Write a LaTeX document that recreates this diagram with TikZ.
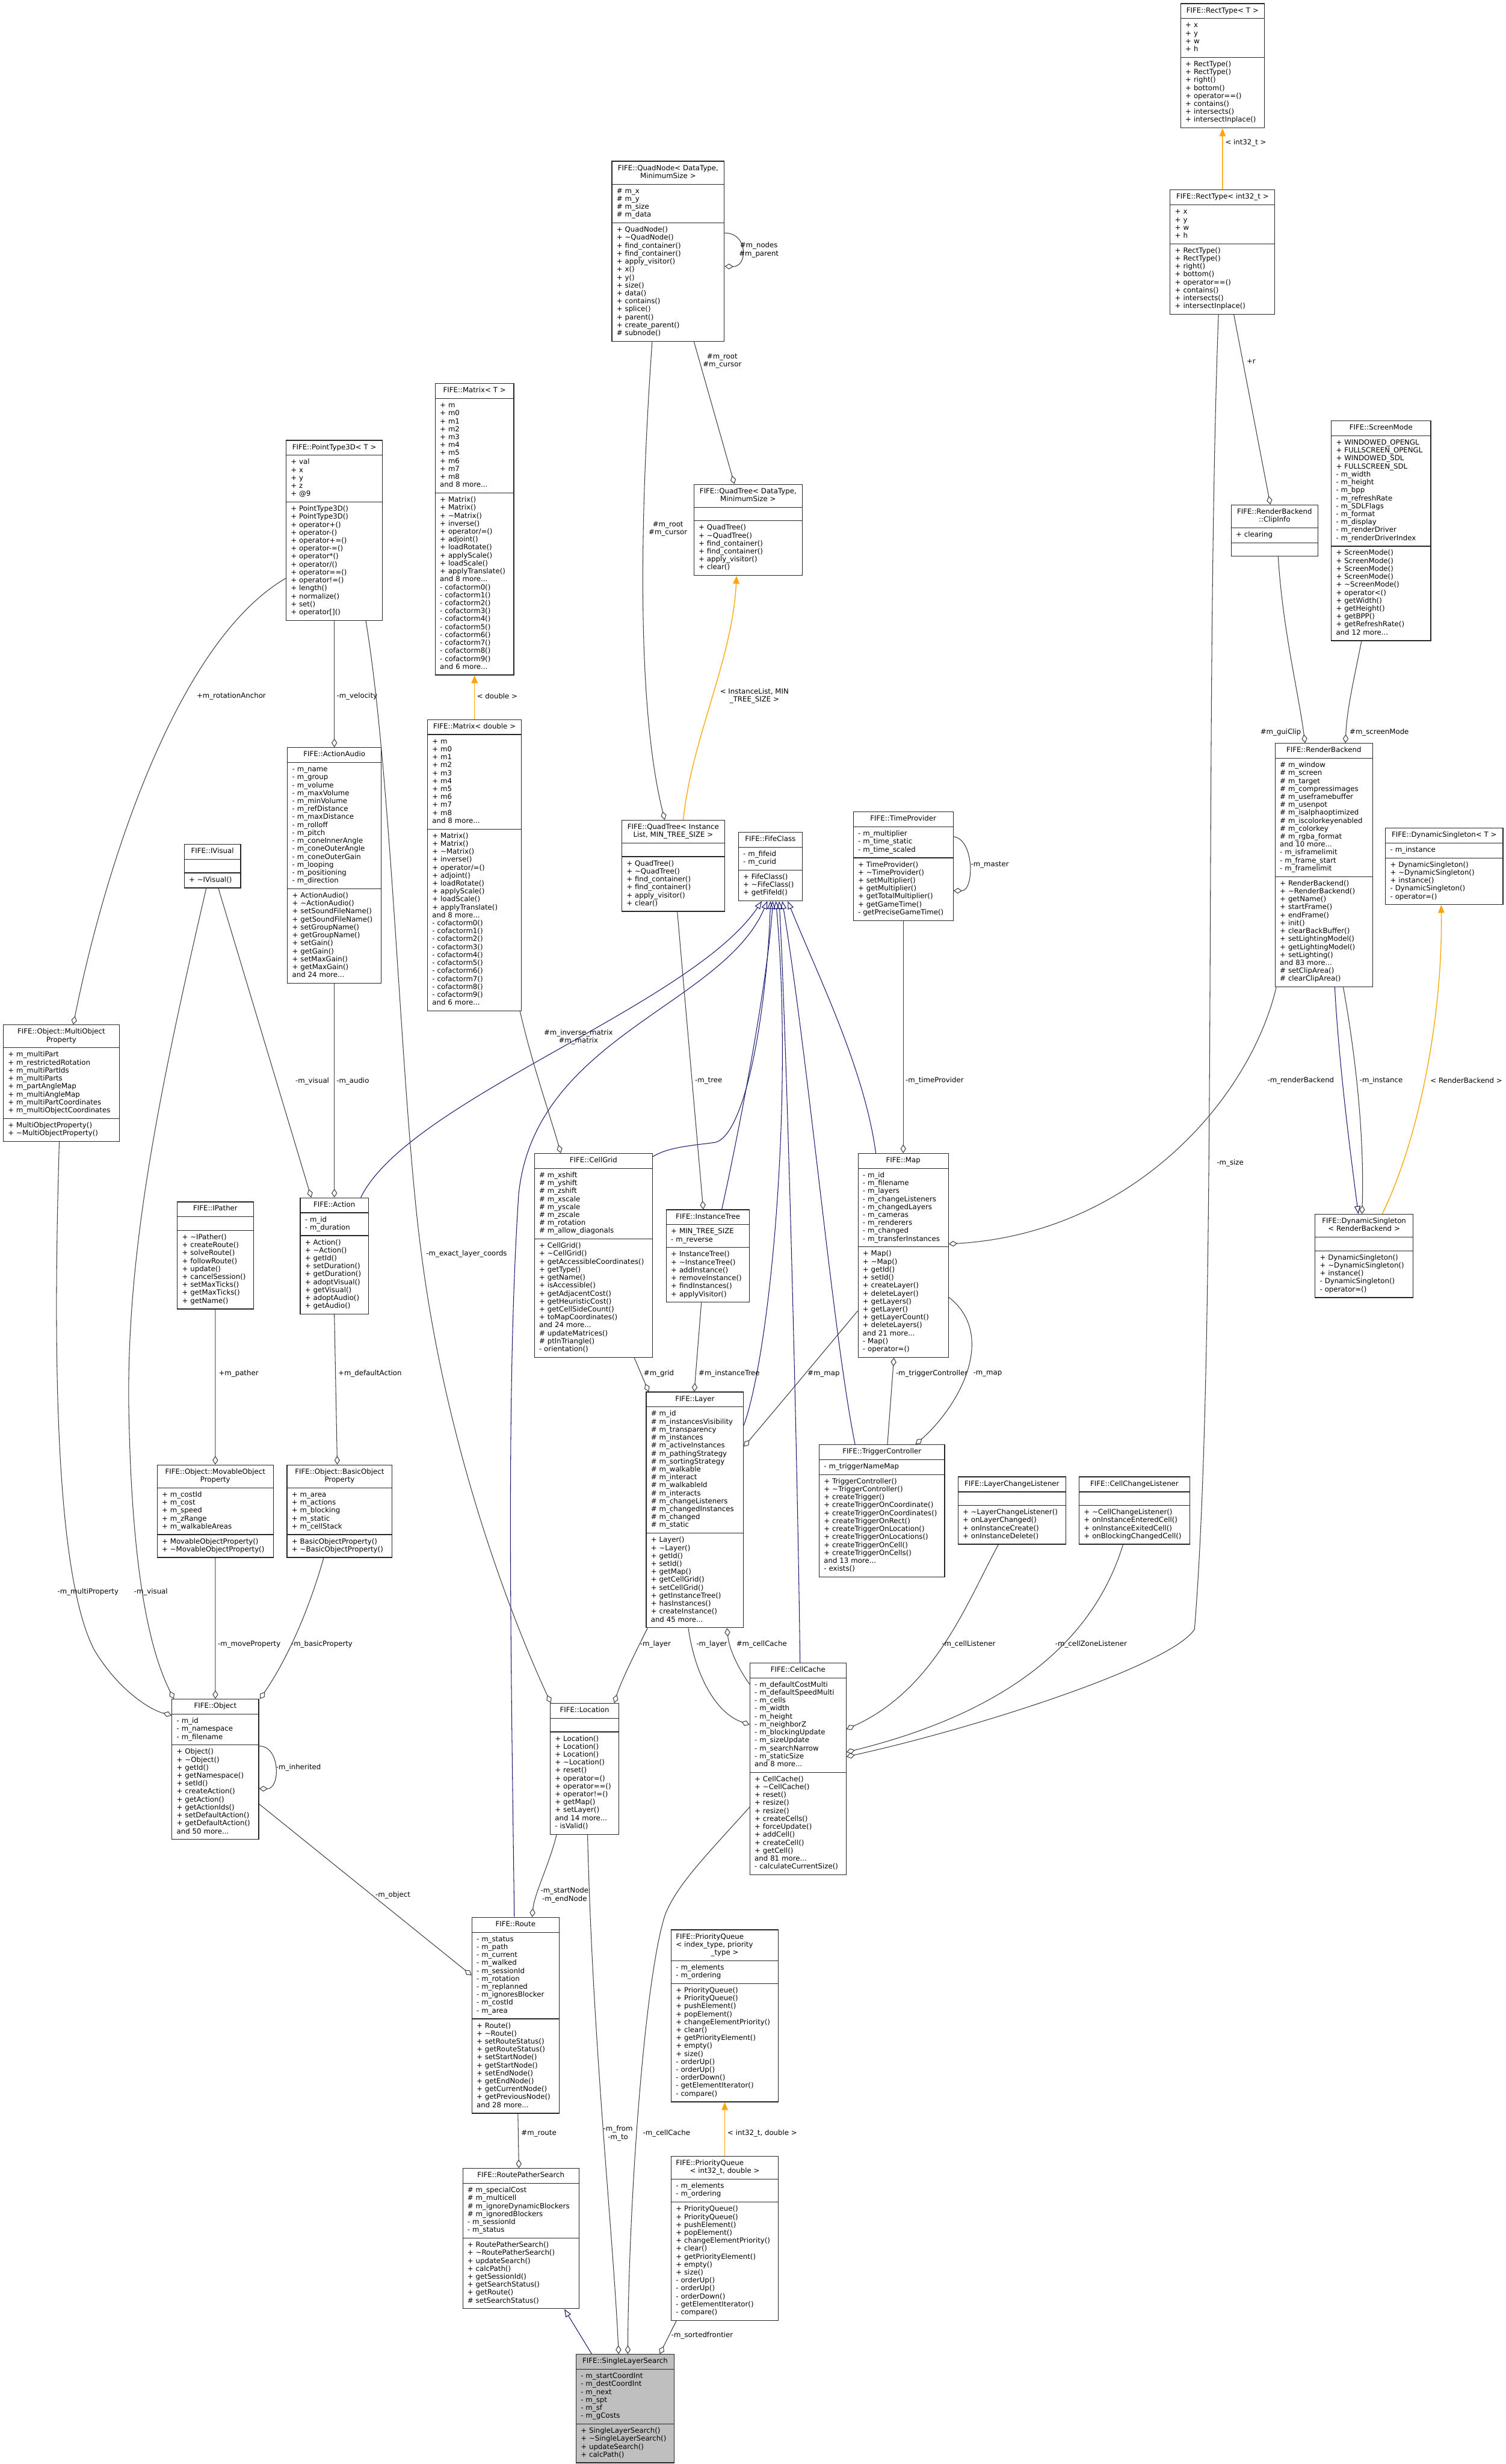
\documentclass[tikz,border=0pt]{standalone}
\usepackage{fontspec}
\setmainfont{DejaVu Sans}
\usetikzlibrary{shapes.multipart,arrows.meta}
\definecolor{edgegray}{HTML}{404040}
\definecolor{inhblue}{HTML}{191970}
\definecolor{tmplorange}{HTML}{FFA500}
\definecolor{slsgray}{HTML}{BFBFBF}
\newcommand\clsfont{\fontsize{4.5}{5.06}\selectfont\hyphenpenalty=10000\exhyphenpenalty=10000\relax}
\newcommand\cmp[1]{\strut#1\strut}
\newcommand\ttl[1]{\strut\makebox[\hsize]{#1}\strut}
\newcommand\ttlii[2]{\strut\makebox[\hsize]{#1}\\\makebox[\hsize]{#2}\strut}
\newcommand\emptycmp{\rule{0pt}{4.2pt}}
\begin{document}
\begin{tikzpicture}[x=1pt,y=-1pt,
  cls/.style={rectangle split, rectangle split parts=3, draw=black!85, line width=0.45pt, fill=white,
    inner xsep=3pt, inner ysep=2pt, align=left, font=\clsfont, anchor=north west},
  agg/.style={draw=edgegray, line width=0.4pt, -{Diamond[open,length=5.5pt,width=3.6pt]}},
  inh/.style={draw=inhblue, line width=0.4pt, -{Triangle[open,length=5pt,width=3.8pt]}},
  tmpl/.style={draw=tmplorange, line width=0.5pt, -{Triangle[length=5pt,width=4pt]}},
  lblw/.style={font=\clsfont, inner sep=0pt, anchor=west, align=left},
  lble/.style={font=\clsfont, inner sep=0pt, anchor=east, align=right},
  lblc/.style={font=\clsfont, inner sep=0pt, align=center}]
\fill[white] (0,0) rectangle (958,1568);
\useasboundingbox (0,0) rectangle (958,1568);

% ---------------- classes ----------------
\node[cls, text width=47.2pt] (rectT) at (751,2.1) {\ttl{FIFE::RectType<~T~>}\nodepart{second}\cmp{+~x\\+~y\\+~w\\+~h}\nodepart{third}\cmp{+~RectType()\\+~RectType()\\+~right()\\+~bottom()\\+~operator==()\\+~contains()\\+~intersects()\\+~intersectInplace()}};

\node[cls, text width=60.6pt] (rectI) at (744.3,120.7) {\ttl{FIFE::RectType<~int32\_t~>}\nodepart{second}\cmp{+~x\\+~y\\+~w\\+~h}\nodepart{third}\cmp{+~RectType()\\+~RectType()\\+~right()\\+~bottom()\\+~operator==()\\+~contains()\\+~intersects()\\+~intersectInplace()}};

\node[cls, text width=65.5pt] (quadnode) at (389.1,102.4) {\ttlii{FIFE::QuadNode<~DataType,}{MinimumSize~>}\nodepart{second}\cmp{\#~m\_x\\\#~m\_y\\\#~m\_size\\\#~m\_data}\nodepart{third}\cmp{+~QuadNode()\\+~\textasciitilde QuadNode()\\+~find\_container()\\+~find\_container()\\+~apply\_visitor()\\+~x()\\+~y()\\+~size()\\+~data()\\+~contains()\\+~splice()\\+~parent()\\+~create\_parent()\\\#~subnode()}};

\node[cls, text width=44pt] (matrixT) at (276.7,243.9) {\ttl{FIFE::Matrix<~T~>}\nodepart{second}\cmp{+~m\\+~m0\\+~m1\\+~m2\\+~m3\\+~m4\\+~m5\\+~m6\\+~m7\\+~m8\\and~8~more...}\nodepart{third}\cmp{+~Matrix()\\+~Matrix()\\+~\textasciitilde Matrix()\\+~inverse()\\+~operator/=()\\+~adjoint()\\+~loadRotate()\\+~applyScale()\\+~loadScale()\\+~applyTranslate()\\and~8~more...\\-~cofactorm0()\\-~cofactorm1()\\-~cofactorm2()\\-~cofactorm3()\\-~cofactorm4()\\-~cofactorm5()\\-~cofactorm6()\\-~cofactorm7()\\-~cofactorm8()\\-~cofactorm9()\\and~6~more...}};

\node[cls, text width=55.4pt] (pt3d) at (181.8,280) {\ttl{FIFE::PointType3D<~T~>}\nodepart{second}\cmp{+~val\\+~x\\+~y\\+~z\\+~@9}\nodepart{third}\cmp{+~PointType3D()\\+~PointType3D()\\+~operator+()\\+~operator-()\\+~operator+=()\\+~operator-=()\\+~operator*()\\+~operator/()\\+~operator==()\\+~operator!=()\\+~length()\\+~normalize()\\+~set()\\+~operator[]()}};

\node[cls, text width=62.9pt] (quadtreeDT) at (441.3,308) {\ttlii{FIFE::QuadTree<~DataType,}{MinimumSize~>}\nodepart{second}\emptycmp\nodepart{third}\cmp{+~QuadTree()\\+~\textasciitilde QuadTree()\\+~find\_container()\\+~find\_container()\\+~apply\_visitor()\\+~clear()}};

\node[cls, text width=57.3pt] (screen) at (846.8,267.6) {\ttl{FIFE::ScreenMode}\nodepart{second}\cmp{+~WINDOWED\_OPENGL\\+~FULLSCREEN\_OPENGL\\+~WINDOWED\_SDL\\+~FULLSCREEN\_SDL\\-~m\_width\\-~m\_height\\-~m\_bpp\\-~m\_refreshRate\\-~m\_SDLFlags\\-~m\_format\\-~m\_display\\-~m\_renderDriver\\-~m\_renderDriverIndex}\nodepart{third}\cmp{+~ScreenMode()\\+~ScreenMode()\\+~ScreenMode()\\+~ScreenMode()\\+~\textasciitilde ScreenMode()\\+~operator<()\\+~getWidth()\\+~getHeight()\\+~getBPP()\\+~getRefreshRate()\\and~12~more...}};

\node[cls, text width=49.2pt] (clipinfo) at (783.1,321.1) {\ttlii{FIFE::RenderBackend}{::ClipInfo}\nodepart{second}\cmp{+~clearing}\nodepart{third}\emptycmp};

\node[cls, text width=53.8pt] (matrixD) at (271.8,457.7) {\ttl{FIFE::Matrix<~double~>}\nodepart{second}\cmp{+~m\\+~m0\\+~m1\\+~m2\\+~m3\\+~m4\\+~m5\\+~m6\\+~m7\\+~m8\\and~8~more...}\nodepart{third}\cmp{+~Matrix()\\+~Matrix()\\+~\textasciitilde Matrix()\\+~inverse()\\+~operator/=()\\+~adjoint()\\+~loadRotate()\\+~applyScale()\\+~loadScale()\\+~applyTranslate()\\and~8~more...\\-~cofactorm0()\\-~cofactorm1()\\-~cofactorm2()\\-~cofactorm3()\\-~cofactorm4()\\-~cofactorm5()\\-~cofactorm6()\\-~cofactorm7()\\-~cofactorm8()\\-~cofactorm9()\\and~6~more...}};

\node[cls, text width=53.6pt] (actionaudio) at (182.7,475.5) {\ttl{FIFE::ActionAudio}\nodepart{second}\cmp{-~m\_name\\-~m\_group\\-~m\_volume\\-~m\_maxVolume\\-~m\_minVolume\\-~m\_refDistance\\-~m\_maxDistance\\-~m\_rolloff\\-~m\_pitch\\-~m\_coneInnerAngle\\-~m\_coneOuterAngle\\-~m\_coneOuterGain\\-~m\_looping\\-~m\_positioning\\-~m\_direction}\nodepart{third}\cmp{+~ActionAudio()\\+~\textasciitilde ActionAudio()\\+~setSoundFileName()\\+~getSoundFileName()\\+~setGroupName()\\+~getGroupName()\\+~setGain()\\+~getGain()\\+~setMaxGain()\\+~getMaxGain()\\and~24~more...}};

\node[cls, text width=29.9pt] (ivisual) at (117,537.1) {\ttl{FIFE::IVisual}\nodepart{second}\emptycmp\nodepart{third}\cmp{+~\textasciitilde IVisual()}};

\node[cls, text width=59.4pt] (quadtreeIL) at (395.4,521.7) {\ttlii{FIFE::QuadTree<~Instance}{List,~MIN\_TREE\_SIZE~>}\nodepart{second}\emptycmp\nodepart{third}\cmp{+~QuadTree()\\+~\textasciitilde QuadTree()\\+~find\_container()\\+~find\_container()\\+~apply\_visitor()\\+~clear()}};

\node[cls, text width=34.6pt] (fife) at (469.6,529.3) {\ttl{FIFE::FifeClass}\nodepart{second}\cmp{-~m\_fifeid\\-~m\_curid}\nodepart{third}\cmp{+~FifeClass()\\+~\textasciitilde FifeClass()\\+~getFifeId()}};

\node[cls, text width=57.5pt] (timeprov) at (542.7,516.5) {\ttl{FIFE::TimeProvider}\nodepart{second}\cmp{-~m\_multiplier\\-~m\_time\_static\\-~m\_time\_scaled}\nodepart{third}\cmp{+~TimeProvider()\\+~\textasciitilde TimeProvider()\\+~setMultiplier()\\+~getMultiplier()\\+~getTotalMultiplier()\\+~getGameTime()\\-~getPreciseGameTime()}};

\node[cls, text width=55.9pt] (renderbackend) at (811.1,472.8) {\ttl{FIFE::RenderBackend}\nodepart{second}\cmp{\#~m\_window\\\#~m\_screen\\\#~m\_target\\\#~m\_compressimages\\\#~m\_useframebuffer\\\#~m\_usenpot\\\#~m\_isalphaoptimized\\\#~m\_iscolorkeyenabled\\\#~m\_colorkey\\\#~m\_rgba\_format\\and~10~more...\\-~m\_isframelimit\\-~m\_frame\_start\\-~m\_framelimit}\nodepart{third}\cmp{+~RenderBackend()\\+~\textasciitilde RenderBackend()\\+~getName()\\+~startFrame()\\+~endFrame()\\+~init()\\+~clearBackBuffer()\\+~setLightingModel()\\+~getLightingModel()\\+~setLighting()\\and~83~more...\\\#~setClipArea()\\\#~clearClipArea()}};

\node[cls, text width=68.7pt] (dsT) at (881.3,526.7) {\ttl{FIFE::DynamicSingleton<~T~>}\nodepart{second}\cmp{-~m\_instance}\nodepart{third}\cmp{+~DynamicSingleton()\\+~\textasciitilde DynamicSingleton()\\+~instance()\\-~DynamicSingleton()\\-~operator=()}};

\node[cls, text width=67.8pt] (mop) at (1.9,652) {\ttlii{FIFE::Object::MultiObject}{Property}\nodepart{second}\cmp{+~m\_multiPart\\+~m\_restrictedRotation\\+~m\_multiPartIds\\+~m\_multiParts\\+~m\_partAngleMap\\+~m\_multiAngleMap\\+~m\_multiPartCoordinates\\+~m\_multiObjectCoordinates}\nodepart{third}\cmp{+~MultiObjectProperty()\\+~\textasciitilde MultiObjectProperty()}};

\node[cls, text width=37.4pt] (action) at (190.8,762) {\ttl{FIFE::Action}\nodepart{second}\cmp{-~m\_id\\-~m\_duration}\nodepart{third}\cmp{+~Action()\\+~\textasciitilde Action()\\+~getId()\\+~setDuration()\\+~getDuration()\\+~adoptVisual()\\+~getVisual()\\+~adoptAudio()\\+~getAudio()}};

\node[cls, text width=42.4pt] (ipather) at (112.6,764.6) {\ttl{FIFE::IPather}\nodepart{second}\emptycmp\nodepart{third}\cmp{+~\textasciitilde IPather()\\+~createRoute()\\+~solveRoute()\\+~followRoute()\\+~update()\\+~cancelSession()\\+~setMaxTicks()\\+~getMaxTicks()\\+~getName()}};

\node[cls, text width=69.2pt] (cellgrid) at (339.8,733.8) {\ttl{FIFE::CellGrid}\nodepart{second}\cmp{\#~m\_xshift\\\#~m\_yshift\\\#~m\_zshift\\\#~m\_xscale\\\#~m\_yscale\\\#~m\_zscale\\\#~m\_rotation\\\#~m\_allow\_diagonals}\nodepart{third}\cmp{+~CellGrid()\\+~\textasciitilde CellGrid()\\+~getAccessibleCoordinates()\\+~getType()\\+~getName()\\+~isAccessible()\\+~getAdjacentCost()\\+~getHeuristicCost()\\+~getCellSideCount()\\+~toMapCoordinates()\\and~24~more...\\\#~updateMatrices()\\\#~ptInTriangle()\\-~orientation()}};

\node[cls, text width=47pt] (instancetree) at (423.7,769.6) {\ttl{FIFE::InstanceTree}\nodepart{second}\cmp{+~MIN\_TREE\_SIZE\\-~m\_reverse}\nodepart{third}\cmp{+~InstanceTree()\\+~\textasciitilde InstanceTree()\\+~addInstance()\\+~removeInstance()\\+~findInstances()\\+~applyVisitor()}};

\node[cls, text width=51.5pt] (map) at (545.7,733.8) {\ttl{FIFE::Map}\nodepart{second}\cmp{-~m\_id\\-~m\_filename\\-~m\_layers\\-~m\_changeListeners\\-~m\_changedLayers\\-~m\_cameras\\-~m\_renderers\\-~m\_changed\\-~m\_transferInstances}\nodepart{third}\cmp{+~Map()\\+~\textasciitilde Map()\\+~getId()\\+~setId()\\+~createLayer()\\+~deleteLayer()\\+~getLayers()\\+~getLayer()\\+~getLayerCount()\\+~deleteLayers()\\and~21~more...\\-~Map()\\-~operator=()}};

\node[cls, text width=56.3pt] (dsRB) at (836.5,772.5) {\ttlii{FIFE::DynamicSingleton}{<~RenderBackend~>}\nodepart{second}\emptycmp\nodepart{third}\cmp{+~DynamicSingleton()\\+~\textasciitilde DynamicSingleton()\\+~instance()\\-~DynamicSingleton()\\-~operator=()}};

\node[cls, text width=67.9pt] (movable) at (99.8,932) {\ttlii{FIFE::Object::MovableObject}{Property}\nodepart{second}\cmp{+~m\_costId\\+~m\_cost\\+~m\_speed\\+~m\_zRange\\+~m\_walkableAreas}\nodepart{third}\cmp{+~MovableObjectProperty()\\+~\textasciitilde MovableObjectProperty()}};

\node[cls, text width=60.9pt] (basic) at (182.4,932) {\ttlii{FIFE::Object::BasicObject}{Property}\nodepart{second}\cmp{+~m\_area\\+~m\_actions\\+~m\_blocking\\+~m\_static\\+~m\_cellStack}\nodepart{third}\cmp{+~BasicObjectProperty()\\+~\textasciitilde BasicObjectProperty()}};

\node[cls, text width=55.9pt] (layer) at (410.9,885.6) {\ttl{FIFE::Layer}\nodepart{second}\cmp{\#~m\_id\\\#~m\_instancesVisibility\\\#~m\_transparency\\\#~m\_instances\\\#~m\_activeInstances\\\#~m\_pathingStrategy\\\#~m\_sortingStrategy\\\#~m\_walkable\\\#~m\_interact\\\#~m\_walkableId\\\#~m\_interacts\\\#~m\_changeListeners\\\#~m\_changedInstances\\\#~m\_changed\\\#~m\_static}\nodepart{third}\cmp{+~Layer()\\+~\textasciitilde Layer()\\+~getId()\\+~setId()\\+~getMap()\\+~getCellGrid()\\+~setCellGrid()\\+~getInstanceTree()\\+~hasInstances()\\+~createInstance()\\and~45~more...}};

\node[cls, text width=73.8pt] (trigger) at (521,919.1) {\ttl{FIFE::TriggerController}\nodepart{second}\cmp{-~m\_triggerNameMap}\nodepart{third}\cmp{+~TriggerController()\\+~\textasciitilde TriggerController()\\+~createTrigger()\\+~createTriggerOnCoordinate()\\+~createTriggerOnCoordinates()\\+~createTriggerOnRect()\\+~createTriggerOnLocation()\\+~createTriggerOnLocations()\\+~createTriggerOnCell()\\+~createTriggerOnCells()\\and~13~more...\\-~exists()}};

\node[cls, text width=62.6pt] (layerlistener) at (609.3,939.6) {\ttl{FIFE::LayerChangeListener}\nodepart{second}\emptycmp\nodepart{third}\cmp{+~\textasciitilde LayerChangeListener()\\+~onLayerChanged()\\+~onInstanceCreate()\\+~onInstanceDelete()}};

\node[cls, text width=64.3pt] (celllistener) at (686.4,939.6) {\ttl{FIFE::CellChangeListener}\nodepart{second}\emptycmp\nodepart{third}\cmp{+~\textasciitilde CellChangeListener()\\+~onInstanceEnteredCell()\\+~onInstanceExitedCell()\\+~onBlockingChangedCell()}};

\node[cls, text width=49.2pt] (object) at (109.2,1081.1) {\ttl{FIFE::Object}\nodepart{second}\cmp{-~m\_id\\-~m\_namespace\\-~m\_filename}\nodepart{third}\cmp{+~Object()\\+~\textasciitilde Object()\\+~getId()\\+~getNamespace()\\+~setId()\\+~createAction()\\+~getAction()\\+~getActionIds()\\+~setDefaultAction()\\+~getDefaultAction()\\and~50~more...}};

\node[cls, text width=37.6pt] (location) at (349.9,1083.7) {\ttl{FIFE::Location}\nodepart{second}\emptycmp\nodepart{third}\cmp{+~Location()\\+~Location()\\+~Location()\\+~\textasciitilde Location()\\+~reset()\\+~operator=()\\+~operator==()\\+~operator!=()\\+~getMap()\\+~setLayer()\\and~14~more...\\-~isValid()}};

\node[cls, text width=55.2pt] (cellcache) at (476.9,1058) {\ttl{FIFE::CellCache}\nodepart{second}\cmp{-~m\_defaultCostMulti\\-~m\_defaultSpeedMulti\\-~m\_cells\\-~m\_width\\-~m\_height\\-~m\_neighborZ\\-~m\_blockingUpdate\\-~m\_sizeUpdate\\-~m\_searchNarrow\\-~m\_staticSize\\and~8~more...}\nodepart{third}\cmp{+~CellCache()\\+~\textasciitilde CellCache()\\+~reset()\\+~resize()\\+~resize()\\+~createCells()\\+~forceUpdate()\\+~addCell()\\+~createCell()\\+~getCell()\\and~81~more...\\-~calculateCurrentSize()}};

\node[cls, text width=49.5pt] (route) at (300,1219.9) {\ttl{FIFE::Route}\nodepart{second}\cmp{-~m\_status\\-~m\_path\\-~m\_current\\-~m\_walked\\-~m\_sessionId\\-~m\_rotation\\-~m\_replanned\\-~m\_ignoresBlocker\\-~m\_costId\\-~m\_area}\nodepart{third}\cmp{+~Route()\\+~\textasciitilde Route()\\+~setRouteStatus()\\+~getRouteStatus()\\+~setStartNode()\\+~getStartNode()\\+~setEndNode()\\+~getEndNode()\\+~getCurrentNode()\\+~getPreviousNode()\\and~28~more...}};

\node[cls, text width=62.2pt] (pqIdx) at (426.8,1227.8) {\cmp{FIFE::PriorityQueue\\<~index\_type,~priority\\\makebox[\hsize]{\_type~>}}\nodepart{second}\cmp{-~m\_elements\\-~m\_ordering}\nodepart{third}\cmp{+~PriorityQueue()\\+~PriorityQueue()\\+~pushElement()\\+~popElement()\\+~changeElementPriority()\\+~clear()\\+~getPriorityElement()\\+~empty()\\+~size()\\-~orderUp()\\-~orderUp()\\-~orderDown()\\-~getElementIterator()\\-~compare()}};

\node[cls, text width=68pt] (rps) at (294.2,1379.7) {\ttl{FIFE::RoutePatherSearch}\nodepart{second}\cmp{\#~m\_specialCost\\\#~m\_multicell\\\#~m\_ignoreDynamicBlockers\\\#~m\_ignoredBlockers\\-~m\_sessionId\\-~m\_status}\nodepart{third}\cmp{+~RoutePatherSearch()\\+~\textasciitilde RoutePatherSearch()\\+~updateSearch()\\+~calcPath()\\+~getSessionId()\\+~getSearchStatus()\\+~getRoute()\\\#~setSearchStatus()}};

\node[cls, text width=62.2pt] (pqInt) at (426.8,1372) {\cmp{FIFE::PriorityQueue\\\makebox[\hsize]{<~int32\_t,~double~>}}\nodepart{second}\cmp{-~m\_elements\\-~m\_ordering}\nodepart{third}\cmp{+~PriorityQueue()\\+~PriorityQueue()\\+~pushElement()\\+~popElement()\\+~changeElementPriority()\\+~clear()\\+~getPriorityElement()\\+~empty()\\+~size()\\-~orderUp()\\-~orderUp()\\-~orderDown()\\-~getElementIterator()\\-~compare()}};

\node[cls, text width=56.4pt, fill=slsgray] (sls) at (366.3,1498) {\ttl{FIFE::SingleLayerSearch}\nodepart{second}\cmp{-~m\_startCoordInt\\-~m\_destCoordInt\\-~m\_next\\-~m\_spt\\-~m\_sf\\-~m\_gCosts}\nodepart{third}\cmp{+~SingleLayerSearch()\\+~\textasciitilde SingleLayerSearch()\\+~updateSearch()\\+~calcPath()}};

% ---------------- template instantiation ----------------
\draw[tmpl] (rectI.north) -- (rectT.south);
\draw[tmpl] ([xshift=6.4pt]quadtreeIL.north) .. controls (440,470) and (466,420) .. ([xshift=-7.35pt]quadtreeDT.south);
\draw[tmpl] (matrixD.north) -- (matrixT.south);
\draw[tmpl] ([xshift=11.55pt]dsRB.north) .. controls (905,720) and (918,640) .. ([xshift=-1.95pt]dsT.south);
\draw[tmpl] (pqInt.north) -- (pqIdx.south);

% ---------------- inheritance ----------------
\draw[inh] ([xshift=-5.1pt]action.north east) .. controls (260,700) and (440,640) .. ([xshift=-5.4pt]fife.south);
\draw[inh] ([xshift=-0.75pt]route.north) .. controls (325,1050) and (322,880) .. (330,760) .. controls (340,660) and (460,640) .. ([xshift=-1.9pt]fife.south);
\draw[inh] ([yshift=-2.2pt]cellgrid.north east) .. controls (425,730) and (440,729) .. (455,727) .. controls (475,722) and (488,640) .. ([xshift=0.1pt]fife.south);
\draw[inh] ([xshift=8.8pt]instancetree.north) .. controls (468,730) and (488,630) .. ([xshift=1.6pt]fife.south);
\draw[inh] ([yshift=-21.4pt]layer.north east) .. controls (490,860) and (505,700) .. ([xshift=3.5pt]fife.south);
\draw[inh] ([xshift=1.3pt]cellcache.north) .. controls (507,900) and (500,650) .. ([xshift=5.6pt]fife.south);
\draw[inh] ([xshift=-17.1pt]trigger.north) .. controls (530,850) and (515,680) .. ([xshift=7.6pt]fife.south);
\draw[inh] ([xshift=-17.45pt]map.north) .. controls (550,680) and (520,620) .. ([xshift=11.1pt]fife.south);
\draw[inh] ([xshift=6.95pt]renderbackend.south) .. controls (852,680) and (860,740) .. ([xshift=-3.65pt]dsRB.north);
\draw[inh] ([xshift=10.2pt]sls.north west) -- ([xshift=-9.6pt]rps.south east);

% ---------------- aggregation ----------------
\draw[agg] ([xshift=7.2pt]rectI.south) -- ([xshift=-2.7pt]clipinfo.north);
\draw[agg] ([xshift=-2.6pt]rectI.south) .. controls (766,450) and (775,850) .. (760,1036.8) .. controls (745,1060) and (620,1100) .. ([yshift=-59.9pt]cellcache.north east);
\draw[agg] ([xshift=2.3pt]clipinfo.south) .. controls (816,400) and (826,440) .. ([xshift=-11.95pt]renderbackend.north);
\draw[agg] ([xshift=-12.45pt]screen.south) .. controls (862,430) and (857,450) .. ([xshift=13.75pt]renderbackend.north);
\draw[agg] ([yshift=-45.9pt]quadnode.north east) .. controls (476,148) and (476,170) .. ([yshift=-67.1pt]quadnode.north east);
\draw[agg] ([xshift=16.45pt]quadnode.south) -- ([xshift=-8.75pt]quadtreeDT.north);
\draw[agg] ([xshift=-10.15pt]quadnode.south) .. controls (407,330) and (405,450) .. ([xshift=-5.4pt]quadtreeIL.north);
\draw[agg] (pt3d.south) -- (actionaudio.north);
\draw[agg] ([yshift=27pt]pt3d.south west) .. controls (110,410) and (65,560) .. ([xshift=7.6pt]mop.north);
\draw[agg] ([xshift=-10.9pt]pt3d.south east) .. controls (250,500) and (255,700) .. (268,797) .. controls (285,930) and (330,1040) .. ([xshift=0.6pt]location.north west);
\draw[agg] ([xshift=3.75pt]ivisual.south) -- ([xshift=-14.7pt]action.north);
\draw[agg] (actionaudio.south) -- (action.north);
\draw[agg] ([xshift=-3.95pt]ivisual.south) .. controls (100,700) and (80,800) .. (82,900) .. controls (84,1000) and (95,1050) .. ([xshift=1.4pt]object.north west);
\draw[agg] ([xshift=-1.3pt]mop.south) .. controls (34,850) and (34,1000) .. (60,1050) .. controls (75,1075) and (95,1088) .. ([yshift=-10.4pt]object.north west);
\draw[agg] (ipather.south) -- (movable.north);
\draw[agg] (action.south) -- ([xshift=-1.5pt]basic.north);
\draw[agg] (movable.south) -- (object.north);
\draw[agg] ([xshift=-10.15pt]basic.south) .. controls (195,1030) and (180,1060) .. ([xshift=0.5pt]object.north east);
\draw[agg] ([yshift=-30pt]object.north east) .. controls (178.5,1111) and (178.5,1138.5) .. ([yshift=-57.1pt]object.north east);
\draw[agg] ([yshift=-66.9pt]object.north east) -- ([yshift=-37.1pt]route.north west);
\draw[agg] (timeprov.south) -- (map.north);
\draw[agg] ([yshift=-15.9pt]timeprov.north east) .. controls (620,534) and (620,567) .. ([yshift=-50.3pt]timeprov.north east);
\draw[agg] ([xshift=0.9pt]renderbackend.south west) .. controls (795,700) and (720,785) .. ([yshift=-57.8pt]map.north east);
\draw[agg] ([xshift=12.35pt]renderbackend.south) .. controls (864,680) and (868,730) .. ([xshift=-1.35pt]dsRB.north);
\draw[agg] ([xshift=2.6pt]quadtreeIL.south) -- ([xshift=-3pt]instancetree.north);
\draw[agg] ([xshift=-1.2pt]matrixD.south east) .. controls (338,675) and (350,710) .. ([xshift=17pt]cellgrid.north west);
\draw[agg] ([xshift=25.9pt]cellgrid.south) -- ([xshift=-29.35pt]layer.north);
\draw[agg] ([xshift=-4.2pt]instancetree.south) -- ([xshift=-0.35pt]layer.north);
\draw[agg] ([yshift=-100.4pt]map.north west) .. controls (520,865) and (495,895) .. ([yshift=-35pt]layer.north east);
\draw[agg] ([xshift=3.5pt]trigger.north) -- ([xshift=-5.95pt]map.south);
\draw[agg] ([yshift=-91.7pt]map.north east) .. controls (635,850) and (610,895) .. ([xshift=21.4pt]trigger.north);
\draw[agg] ([xshift=1.1pt]layer.south west) .. controls (405,1050) and (395,1070) .. ([xshift=-3.1pt]location.north east);
\draw[agg] ([xshift=-4.15pt]layer.south) .. controls (442,1065) and (455,1090) .. ([yshift=-39.5pt]cellcache.north west);
\draw[agg] ([yshift=-13.8pt]cellcache.north west) .. controls (470,1062) and (464,1050) .. ([xshift=20.45pt]layer.south);
\draw[agg] ([xshift=-8.6pt]layerlistener.south) .. controls (615,1020) and (595,1075) .. ([yshift=-42.4pt]cellcache.north east);
\draw[agg] ([xshift=-7.25pt]celllistener.south) .. controls (700,1030) and (660,1085) .. ([yshift=-57pt]cellcache.north east);
\draw[agg] ([xshift=4.2pt]location.south west) .. controls (350,1185) and (340,1205) .. ([xshift=10.55pt]route.north);
\draw[agg] ([xshift=1.9pt]location.south) .. controls (377,1300) and (390,1420) .. ([xshift=-4.1pt]sls.north);
\draw[agg] ([yshift=-92pt]cellcache.north west) .. controls (450,1180) and (430,1200) .. (423,1219) .. controls (410,1260) and (400,1400) .. ([xshift=1.7pt]sls.north);
\draw[agg] ([xshift=1.55pt]route.south) -- ([xshift=-1.3pt]rps.north);
\draw[agg] ([xshift=3.5pt]pqInt.south west) -- ([xshift=-9.4pt]sls.north east);

% ---------------- labels ----------------
\node[lblw] (l01) at (779.4,90.9) {<~int32\_t~>};
\node[lblw] (l02) at (793,229.9) {+r};
\node[lblw] (l03) at (774,740) {-m\_size};
\node[lble] (l04) at (828,466) {\#m\_guiClip};
\node[lblw] (l05) at (858.5,466) {\#m\_screenMode};
\node[lblc] (l06) at (482.8,159) {\#m\_nodes\\\#m\_parent};
\node[lblc] (l07) at (459.5,229.8) {\#m\_root\\\#m\_cursor};
\node[lblc] (l08) at (425,336.7) {\#m\_root\\\#m\_cursor};
\node[lblc] (l09) at (480,443) {<~InstanceList,~MIN\\\_TREE\_SIZE~>};
\node[lblw] (l10) at (214,443.1) {-m\_velocity};
\node[lblw] (l11) at (303.3,443.1) {<~double~>};
\node[lblw] (l12) at (125,443) {+m\_rotationAnchor};
\node[lblw] (l13) at (271,798) {-m\_exact\_layer\_coords};
\node[lblc] (l14) at (198.7,687.9) {-m\_visual};
\node[lblw] (l15) at (213.9,687.9) {-m\_audio};
\node[lblc] (l16) at (96,1013) {-m\_visual};
\node[lblc] (l17) at (56,1013) {-m\_multiProperty};
\node[lblw] (l18) at (139,874.3) {+m\_pather};
\node[lblw] (l19) at (215,874.3) {+m\_defaultAction};
\node[lblw] (l20) at (138.4,1046.3) {-m\_moveProperty};
\node[lblw] (l21) at (185.1,1046.3) {-m\_basicProperty};
\node[lblw] (l22) at (175.5,1124.7) {-m\_inherited};
\node[lblc] (l23) at (250,1206) {-m\_object};
\node[lblw] (l24) at (576,687.7) {-m\_timeProvider};
\node[lblw] (l25) at (617.5,550.3) {-m\_master};
\node[lblw] (l26) at (806.2,687.7) {-m\_renderBackend};
\node[lblw] (l27) at (864.9,687.7) {-m\_instance};
\node[lblw] (l28) at (909.9,687.7) {<~RenderBackend~>};
\node[lblw] (l29) at (442,687.7) {-m\_tree};
\node[lblc] (l30) at (368,660) {\#m\_inverse\_matrix\\\#m\_matrix};
\node[lblw] (l31) at (409.4,874.3) {\#m\_grid};
\node[lblw] (l32) at (444.3,874.3) {\#m\_instanceTree};
\node[lblw] (l33) at (513.6,874.3) {\#m\_map};
\node[lblw] (l34) at (569.8,874.3) {-m\_triggerController};
\node[lblw] (l35) at (619,874.3) {-m\_map};
\node[lblw] (l36) at (407.1,1046.3) {-m\_layer};
\node[lblw] (l37) at (442.9,1046.3) {-m\_layer};
\node[lblw] (l38) at (468.3,1046.3) {\#m\_cellCache};
\node[lblw] (l39) at (599,1046.3) {-m\_cellListener};
\node[lblw] (l40) at (671.2,1046.3) {-m\_cellZoneListener};
\node[lblc] (l41) at (359.2,1206) {-m\_startNode\\-m\_endNode};
\node[lblc] (l42) at (393.2,1357.6) {-m\_from\\-m\_to};
\node[lblw] (l43) at (408.9,1357.6) {-m\_cellCache};
\node[lblw] (l44) at (331.5,1357.6) {\#m\_route};
\node[lblw] (l45) at (462.7,1357.6) {<~int32\_t,~double~>};
\node[lblw] (l46) at (427,1486.2) {-m\_sortedfrontier};
\end{tikzpicture}
\end{document}
